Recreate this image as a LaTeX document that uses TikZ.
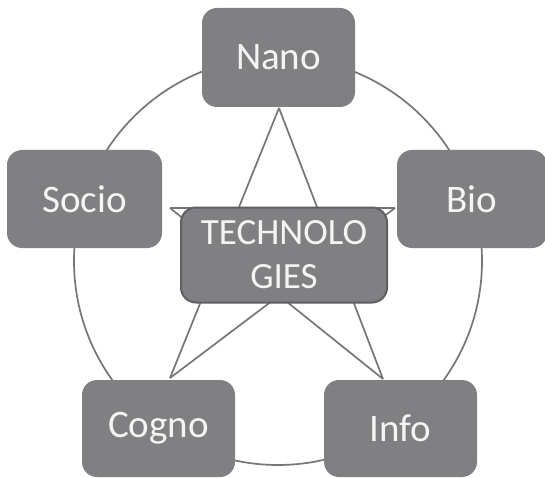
\documentclass[tikz,border=0pt]{standalone}
\usepackage{fontspec}
\setmainfont{Carlito}
\definecolor{boxgray}{RGB}{128,128,130}
\definecolor{linegray}{RGB}{118,118,120}
\definecolor{txt}{RGB}{244,244,244}
\definecolor{rimgray}{RGB}{95,95,97}
\begin{document}
\begin{tikzpicture}[x=1pt,y=-1pt,
  topicbox/.style={fill=boxgray,draw=none,rounded corners=15pt,text=txt,
    font=\fontsize{39}{44}\selectfont,anchor=center},
  hubbox/.style={fill=boxgray,draw=rimgray,line width=2pt,rounded corners=15pt,text=txt,
    font=\fontsize{37}{44}\selectfont,align=center,anchor=center,inner sep=2pt},
  link/.style={draw=linegray,line width=1.7pt}]
\useasboundingbox (0,0) rectangle (545,478);
\fill[white] (0,0) rectangle (545,478);
% circle
\coordinate (c) at (278,261);
\draw[link] (c) circle[radius=204pt];
% star vertices
\coordinate (T) at (279,108);
\coordinate (Bv) at (395,208);
\coordinate (Iv) at (383,379);
\coordinate (Cv) at (170,378);
\coordinate (Sv) at (170,208);
\draw[link] (T) -- (Cv);
\draw[link] (T) -- (Iv);
\draw[link] (Sv) -- (Bv);
\draw[link] (Sv) -- (Iv);
\draw[link] (Bv) -- (Cv);
% boxes
\node[topicbox,minimum width=153pt,minimum height=99pt] (nano) at (278.5,57.5) {Nano};
\node[topicbox,minimum width=155pt,minimum height=98pt] (socio) at (84.5,199) {Socio};
\node[topicbox,minimum width=150pt,minimum height=98pt] (bio) at (472,199) {Bio};
\node[topicbox,minimum width=153pt,minimum height=97pt] (cogno) at (158.5,428.5) {Cogno};
\node[topicbox,minimum width=153pt,minimum height=97pt] (info) at (400.5,428.5) {Info};
\node[hubbox,minimum width=206pt,minimum height=95pt] (hub) at (284,255) {TECHNOLO\\GIES};
\end{tikzpicture}
\end{document}
